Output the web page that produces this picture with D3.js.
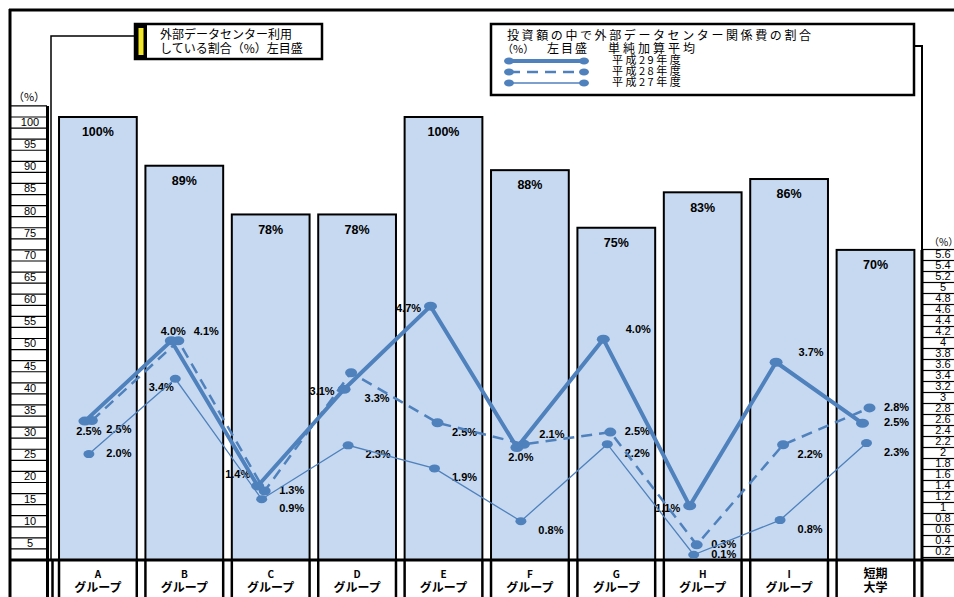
<!DOCTYPE html>
<html>
<head>
<meta charset="utf-8">
<script src="https://cdn.jsdelivr.net/npm/d3@7"></script>
<style>
  body { margin: 0; background: #fff; }
  svg { display: block; font-family: "Liberation Sans", Arial, sans-serif; }
  .jp { font-family: "Noto Sans CJK JP", sans-serif; }
</style>
</head>
<body>
<svg width="954" height="597"></svg>
<script>
// --- data ---
var groupNames = ["A", "B", "C", "D", "E", "F", "G", "H", "I", "短期"];
var groupSub   = ["グループ", "グループ", "グループ", "グループ", "グループ", "グループ", "グループ", "グループ", "グループ", "大学"];

// share of groups using an outside data centre (left scale, %)
var usageRate   = [100, 89, 78, 78, 100, 88, 75, 83, 86, 70];
var usageLabels = ["100%", "89%", "78%", "78%", "100%", "88%", "75%", "83%", "86%", "70%"];

// outside data centre cost as share of investment (right scale, %)
var shareH29 = [2.58, 4.04, 1.40, 3.16, 4.67, 2.10, 4.07, 1.04, 3.65, 2.54];
var shareH28 = [2.59, 4.04, 1.31, 3.46, 2.55, 2.16, 2.38, 0.33, 2.15, 2.82];
var shareH27 = [1.98, 3.35, 1.16, 2.14, 1.72, 0.76, 2.16, 0.15, 0.78, 2.18];

var labelsH29 = ["2.5%", "4.0%", "1.4%", "3.1%", "4.7%", "2.0%", "4.0%", "1.1%", "3.7%", "2.5%"];
var labelsH28 = ["2.5%", "4.1%", "1.3%", "3.3%", "2.5%", "2.1%", "2.5%", "0.3%", "2.2%", "2.8%"];
var labelsH27 = ["2.0%", "3.4%", "0.9%", "2.3%", "1.9%", "0.8%", "2.2%", "0.1%", "0.8%", "2.3%"];

// where each data label sits relative to its point
var placeH29 = ["b", "a", "la", "l", "l", "b", "ra", "l", "ra", "r"];
var placeH28 = ["rb", "ra", "r", "rbb", "rb", "ra", "r", "r", "rb", "r"];
var placeH27 = ["r", "lb", "rb", "rb", "rb", "rb", "rb", "r", "rb", "rb"];

var leftTicks  = d3.range(5, 101, 5);
var rightTicks = d3.range(1, 29).map(function(i) { return +(i * 0.2).toFixed(1); });

var blue = "#4f81bd";

var svg = d3.select("svg");

var x = d3.scaleBand()
    .domain(groupNames)
    .range([54.7, 918.7])
    .paddingInner(0.1)
    .paddingOuter(0.05);

var yL = d3.scaleLinear().domain([0, 100]).range([560, 117]);
var yR = d3.scaleLinear().domain([0, 5.6]).range([563, 255]);

var bw = x.bandwidth();
function cx(i) { return x(groupNames[i]) + bw / 2; }

// --- bars ---
svg.selectAll("rect.bar")
    .data(usageRate)
    .enter().append("rect")
    .attr("class", "bar")
    .attr("x", function(d, i) { return x(groupNames[i]); })
    .attr("y", function(d) { return yL(d); })
    .attr("width", bw)
    .attr("height", function(d) { return yL(0) - yL(d); })
    .attr("fill", "#c6d9f0")
    .attr("stroke", "#000")
    .attr("stroke-width", 2);

svg.selectAll("text.barlab")
    .data(usageLabels)
    .enter().append("text")
    .attr("class", "barlab")
    .attr("x", function(d, i) { return cx(i); })
    .attr("y", function(d, i) { return yL(usageRate[i]) + 16; })
    .attr("text-anchor", "middle")
    .attr("dominant-baseline", "middle")
    .attr("font-size", "12.5px")
    .attr("font-weight", "bold")
    .text(function(d) { return d; });

// bar sides run down through the category row
groupNames.forEach(function(g) {
  [x(g), x(g) + bw].forEach(function(xx) {
    svg.append("line")
        .attr("x1", xx).attr("x2", xx)
        .attr("y1", 560).attr("y2", 597)
        .attr("stroke", "#000").attr("stroke-width", 2.5);
  });
});

// category labels
svg.selectAll("text.cat1")
    .data(groupNames)
    .enter().append("text")
    .attr("class", "jp")
    .attr("x", function(d, i) { return cx(i); })
    .attr("y", 575)
    .attr("text-anchor", "middle")
    .attr("dominant-baseline", "middle")
    .attr("font-size", function(d) { return d.length > 1 ? "12px" : "10px"; })
    .attr("font-weight", "bold")
    .text(function(d) { return d; });

svg.selectAll("text.cat2")
    .data(groupSub)
    .enter().append("text")
    .attr("class", "jp")
    .attr("x", function(d, i) { return cx(i); })
    .attr("y", 589)
    .attr("text-anchor", "middle")
    .attr("dominant-baseline", "middle")
    .attr("font-size", "12px")
    .attr("font-weight", "bold")
    .text(function(d) { return d; });

// --- left scale column ---
d3.range(0, 102.6, 2.5).forEach(function(v) {
  svg.append("line")
      .attr("x1", 10).attr("x2", 47)
      .attr("y1", yL(v)).attr("y2", yL(v))
      .attr("stroke", "#000").attr("stroke-width", 1.2);
});

var leftAxis = svg.append("g")
    .attr("transform", "translate(30,0)")
    .call(d3.axisLeft(yL).tickValues(leftTicks).tickSize(0).tickPadding(0));
leftAxis.select(".domain").remove();
leftAxis.selectAll("text")
    .attr("x", 0)
    .attr("dy", null)
    .attr("y", (yL(0) - yL(2.5)) / 2)
    .attr("dominant-baseline", "middle")
    .attr("text-anchor", "middle")
    .attr("font-size", "11px")
    .attr("font-family", "Liberation Sans, Arial, sans-serif")
    .attr("fill", "#000");

svg.append("text").attr("class", "jp")
    .attr("x", 29).attr("y", 98)
    .attr("text-anchor", "middle").attr("dominant-baseline", "middle")
    .attr("font-size", "11px").text("（%）");

// --- right scale column ---
d3.range(0, 29).forEach(function(k) {
  var v = 0.1 + k * 0.2;
  svg.append("line")
      .attr("x1", 922).attr("x2", 954)
      .attr("y1", yR(v)).attr("y2", yR(v))
      .attr("stroke", "#000").attr("stroke-width", 1.2);
});

var rightAxis = svg.append("g")
    .attr("transform", "translate(943,0)")
    .call(d3.axisRight(yR).tickValues(rightTicks).tickSize(0).tickPadding(0)
      .tickFormat(function(d) { return String(d); }));
rightAxis.select(".domain").remove();
rightAxis.selectAll("text")
    .attr("x", 0)
    .attr("dy", null)
    .attr("dominant-baseline", "middle")
    .attr("text-anchor", "middle")
    .attr("font-size", "11px")
    .attr("font-family", "Liberation Sans, Arial, sans-serif")
    .attr("fill", "#000");

svg.append("text").attr("class", "jp")
    .attr("x", 929).attr("y", 243)
    .attr("dominant-baseline", "middle")
    .attr("font-size", "10px").text("（%）");

// --- frame and connector lines ---
function seg(d, w) {
  svg.append("path").attr("d", d)
      .attr("fill", "none").attr("stroke", "#000").attr("stroke-width", w);
}
seg("M9,10H954", 3);
seg("M10,9V597", 3);
seg("M47.5,106V597", 3);
seg("M135,36H51V560", 1.5);
seg("M52.5,560V597", 2.5);
seg("M914,46H922V250", 2);
seg("M922,250V597", 3);
seg("M10,560H954", 3);

// --- line series ---
var series = [
  { values: shareH27, labels: labelsH27, place: placeH27, off: -9,  width: 1.3, dash: null,   rx: 5.5, ry: 4 },
  { values: shareH28, labels: labelsH28, place: placeH28, off: -6,  width: 2.5, dash: "11,7", rx: 6,   ry: 4.5 },
  { values: shareH29, labels: labelsH29, place: placeH29, off: -13, width: 4,   dash: null,   rx: 6.5, ry: 4.5 }
];

function labelPos(code, px, py, c) {
  switch (code) {
    case "r":   return [c + 21, py];
    case "rb":  return [c + 21, py + 10];
    case "rbb": return [c + 20, py + 26];
    case "ra":  return [c + 22, py - 9];
    case "b":   return [px + 4, py + 11];
    case "a":   return [px + 2, py - 9];
    case "l":   return [px - 22, py + 3];
    case "la":  return [px - 20, py - 11];
    case "lb":  return [px - 14, py + 9];
  }
  return [px, py];
}

// labels first, the lines run over them
series.forEach(function(s) {
  svg.append("g").selectAll("text")
      .data(s.labels)
      .enter().append("text")
      .attr("x", function(d, i) { return labelPos(s.place[i], cx(i) + s.off, yR(s.values[i]), cx(i))[0]; })
      .attr("y", function(d, i) { return labelPos(s.place[i], cx(i) + s.off, yR(s.values[i]), cx(i))[1]; })
      .attr("text-anchor", "middle")
      .attr("dominant-baseline", "middle")
      .attr("font-size", "11px")
      .attr("font-weight", "bold")
      .text(function(d) { return d; });
});

series.forEach(function(s) {
  var line = d3.line()
      .x(function(d, i) { return cx(i) + s.off; })
      .y(function(d) { return yR(d); });

  svg.append("path")
      .datum(s.values)
      .attr("d", line)
      .attr("fill", "none")
      .attr("stroke", blue)
      .attr("stroke-width", s.width)
      .attr("stroke-dasharray", s.dash);

  svg.append("g").selectAll("ellipse")
      .data(s.values)
      .enter().append("ellipse")
      .attr("cx", function(d, i) { return cx(i) + s.off; })
      .attr("cy", function(d) { return yR(d); })
      .attr("rx", s.rx).attr("ry", s.ry)
      .attr("fill", blue);
});

// --- legend: bars ---
svg.append("rect").attr("x", 135).attr("y", 24).attr("width", 187).attr("height", 35)
    .attr("fill", "#fff").attr("stroke", "#000").attr("stroke-width", 2.5);
svg.append("rect").attr("x", 135).attr("y", 24).attr("width", 12).attr("height", 35).attr("fill", "#000");
svg.append("rect").attr("x", 138.5).attr("y", 28).attr("width", 5).attr("height", 27).attr("fill", "#f0e528");
svg.append("text").attr("class", "jp").attr("x", 160).attr("y", 36)
    .attr("dominant-baseline", "middle").attr("font-size", "12px")
    .text("外部データセンター利用");
svg.append("text").attr("class", "jp").attr("x", 160).attr("y", 50)
    .attr("dominant-baseline", "middle").attr("font-size", "12px")
    .text("している割合（%）左目盛");

// --- legend: lines ---
svg.append("rect").attr("x", 491).attr("y", 24).attr("width", 423).attr("height", 71)
    .attr("fill", "#fff").attr("stroke", "#000").attr("stroke-width", 2.5);
svg.append("text").attr("class", "jp").attr("x", 507).attr("y", 37)
    .attr("dominant-baseline", "middle").attr("font-size", "12px").attr("letter-spacing", "2.6px")
    .text("投資額の中で外部データセンター関係費の割合");
svg.append("text").attr("class", "jp").attr("x", 502).attr("y", 50)
    .attr("dominant-baseline", "middle").attr("font-size", "11px")
    .text("（%）");
svg.append("text").attr("class", "jp").attr("x", 547).attr("y", 50)
    .attr("dominant-baseline", "middle").attr("font-size", "12px").attr("letter-spacing", "2px")
    .text("左目盛");
svg.append("text").attr("class", "jp").attr("x", 608).attr("y", 50)
    .attr("dominant-baseline", "middle").attr("font-size", "12px").attr("letter-spacing", "3px")
    .text("単純加算平均");

var legendRows = [
  { name: "平成29年度", s: series[2] },
  { name: "平成28年度", s: series[1] },
  { name: "平成27年度", s: series[0] }
];
legendRows.forEach(function(r, k) {
  var yy = 61 + k * 11;
  svg.append("line").attr("x1", 509).attr("x2", 584).attr("y1", yy).attr("y2", yy)
      .attr("stroke", blue).attr("stroke-width", r.s.width)
      .attr("stroke-dasharray", r.s.dash);
  [509, 584].forEach(function(xx) {
    svg.append("ellipse").attr("cx", xx).attr("cy", yy).attr("rx", 5).attr("ry", 3.5).attr("fill", blue);
  });
  svg.append("text").attr("class", "jp").attr("x", 612).attr("y", yy)
      .attr("dominant-baseline", "middle").attr("font-size", "11px").attr("letter-spacing", "2.5px")
      .text(r.name);
});
</script>
</body>
</html>
